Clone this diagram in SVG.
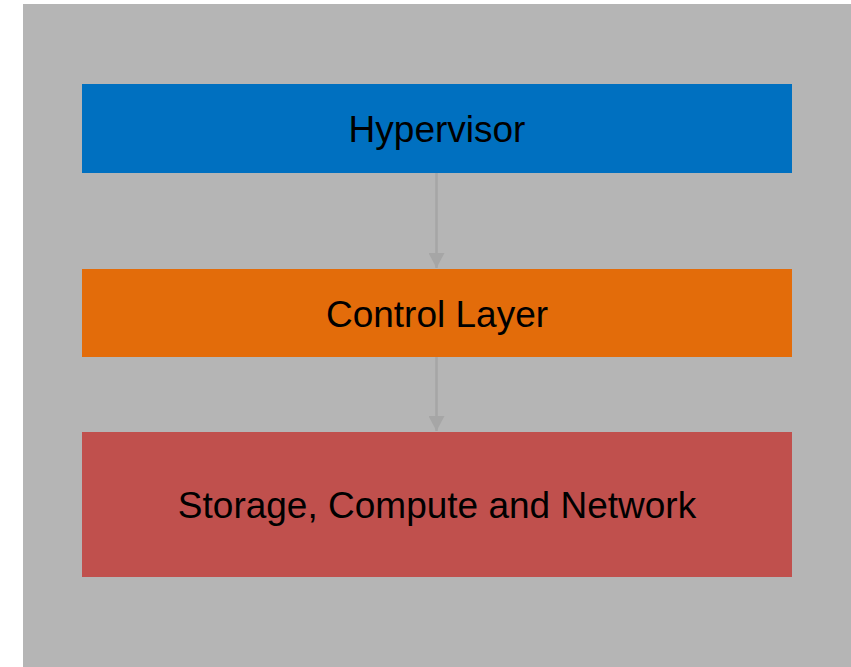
<svg xmlns="http://www.w3.org/2000/svg" width="851" height="667" viewBox="0 0 851 667">
<style>
.lbl{font-family:"Liberation Sans",Arial,sans-serif;font-size:37px;fill:#000;text-anchor:middle;dominant-baseline:central}
.conn{stroke:#a6a6a6;stroke-width:2.5;fill:none}
</style>
<defs>
<marker id="ah" markerWidth="16" markerHeight="16" refX="15" refY="8" orient="auto" markerUnits="userSpaceOnUse">
<path d="M0,0 L15,8 L0,16 Z" fill="#a6a6a6"/>
</marker>
</defs>
<rect x="23" y="4" width="828" height="663" fill="#b5b5b5"/>
<g id="connectors">
<line class="conn" x1="436.5" y1="173" x2="436.5" y2="268" marker-end="url(#ah)"/>
<line class="conn" x1="436.5" y1="357" x2="436.5" y2="431" marker-end="url(#ah)"/>
</g>
<g id="hypervisor">
<rect x="82" y="84" width="710" height="89" fill="#0070c0"/>
<text class="lbl" x="437" y="129">Hypervisor</text>
</g>
<g id="control-layer">
<rect x="82" y="269" width="710" height="88" fill="#e36c0a"/>
<text class="lbl" x="437" y="314">Control Layer</text>
</g>
<g id="storage">
<rect x="82" y="432" width="710" height="145" fill="#c0504d"/>
<text class="lbl" x="437" y="505">Storage, Compute and Network</text>
</g>
</svg>
